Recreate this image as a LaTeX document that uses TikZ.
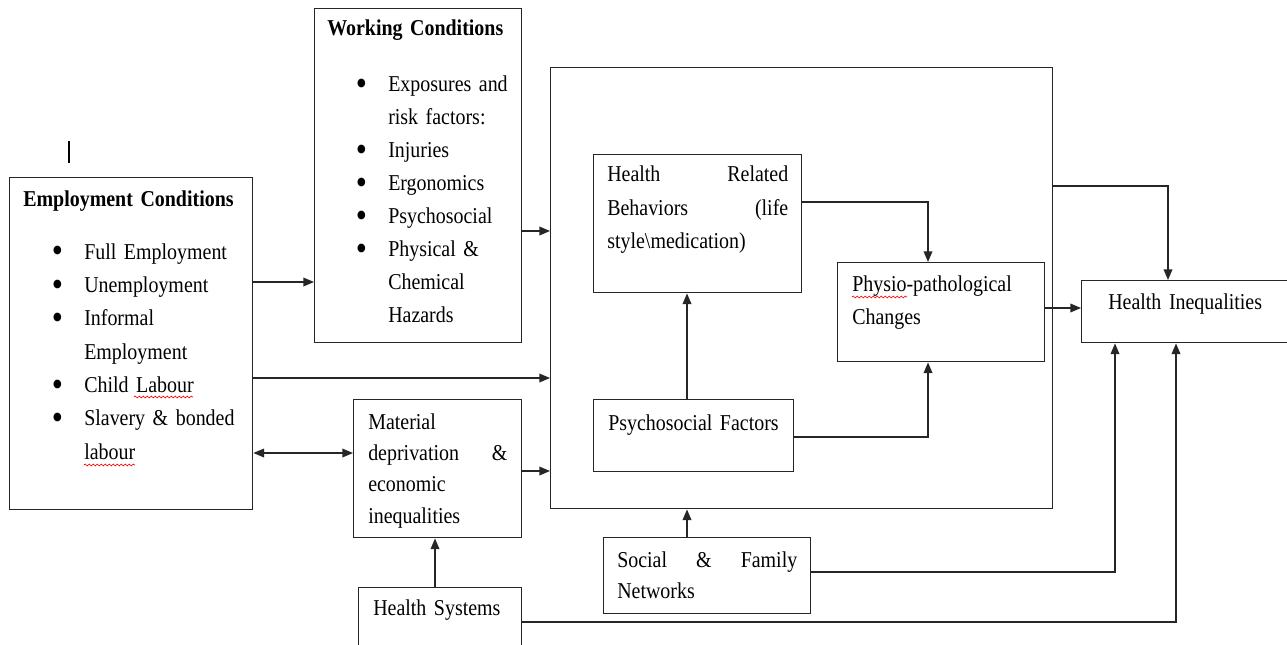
\documentclass[tikz,border=0pt]{standalone}
\usepackage{fontspec}
\setmainfont{Liberation Serif}[FakeStretch=0.88,WordSpace=0.7]
\usetikzlibrary{arrows.meta,decorations.pathmorphing}
\newcommand\txtfont[1]{\fontsize{17}{#1}\selectfont}
\newcommand\bul{\leavevmode\llap{\raisebox{-0.17em}{\scalebox{1.6}{\textbullet}}\hskip 16pt}}
\begin{document}
\begin{tikzpicture}[x=0.75pt,y=-0.75pt,
  box/.style={draw=black!85, line width=1.05pt, inner sep=0pt, anchor=north west},
  txt/.style={anchor=base west, inner sep=0pt, align=left, font=\txtfont{25}},
  arr/.style={draw=black!85, line width=1.05pt, -{Triangle[length=8pt,width=6.5pt]}},
  darr/.style={draw=black!85, line width=1.05pt, {Triangle[length=8pt,width=6.5pt]}-{Triangle[length=8pt,width=6.5pt]}},
  wavy/.style={draw=red, line width=0.5pt, decorate, decoration={snake, amplitude=0.7pt, segment length=3pt}}]
\useasboundingbox (0,0) rectangle (1287,645);

% boxes
\node[box, minimum width=182.25pt, minimum height=249pt] (emp) at (9,177) {};
\node[box, minimum width=155.25pt, minimum height=250.5pt] (wc) at (314,8) {};
\node[box, minimum width=376.5pt, minimum height=330.75pt] (big) at (550,67) {};
\node[box, minimum width=156pt, minimum height=103.5pt] (hrb) at (593,154) {};
\node[box, minimum width=155.25pt, minimum height=74.25pt] (phy) at (837,262) {};
\node[box, minimum width=150pt, minimum height=54pt] (psy) at (593,399) {};
\node[box, minimum width=126pt, minimum height=103.5pt] (mat) at (353,399) {};
\node[box, minimum width=165pt, minimum height=46.5pt] (hi) at (1081,280) {};
\node[box, minimum width=155.25pt, minimum height=57pt] (soc) at (603,537) {};
\node[box, minimum width=122.25pt, minimum height=60pt] (hs) at (358,587) {};

% texts
\node[txt, text width=170pt] (empT) at (23,207) {\textbf{Employment Conditions}};
\node[txt, text width=160pt, font=\txtfont{25}] (empL) at (84,259) {\bul Full Employment\\ \bul Unemployment\\ \bul Informal\\ Employment\\ \bul Child Labour\\ \bul Slavery \& bonded\\ labour};
\node[txt, text width=160pt] (wcT) at (327,36) {\textbf{Working Conditions}};
\node[txt, text width=160pt, font=\txtfont{24.75}] (wcL) at (388,92) {\bul Exposures and\\ risk factors:\\ \bul Injuries\\ \bul Ergonomics\\ \bul Psychosocial\\ \bul Physical \&\\ Chemical\\ Hazards};
\node[txt, text width=135.75pt, font=\txtfont{25}] (hrbT) at (607,182) {Health\hfill Related\\ Behaviors\hfill (life\\ style\textbackslash medication)};
\node[txt, text width=160pt, font=\txtfont{24.75}] (phyT) at (852,291) {Physio-pathological\\ Changes};
\node[txt, text width=160pt] (psyT) at (608,430) {Psychosocial Factors};
\node[txt, text width=104.25pt, font=\txtfont{23.5}] (matT) at (368,429) {Material\\ deprivation\hfill\&\\ economic\\ inequalities};
\node[txt, text width=135pt, font=\txtfont{23.25}] (socT) at (617,567) {Social\hfill\&\hfill Family\\ Networks};
\node[txt, text width=120pt] (hsT) at (373,615) {Health Systems};
\node[txt, text width=150pt] (hiT) at (1108,309) {Health Inequalities};

% spell-check marks and cursor
\draw[wavy] (134,397) -- (193,397);
\draw[wavy] (84,465) -- (135,465);
\draw[wavy] (852,297) -- (907,297);
\draw[line width=1.6pt] (69,141) -- (69,163);

% connectors
\draw[arr] (emp.east |- 0,282) -- (wc.west |- 0,282);
\draw[arr] (wc.east |- 0,231) -- (big.west |- 0,231);
\draw[arr] (emp.east |- 0,378) -- (big.west |- 0,378);
\draw[darr] (emp.east |- 0,453) -- (mat.west |- 0,453);
\draw[arr] (mat.east |- 0,471) -- (big.west |- 0,471);
\draw[arr] (hs.north -| 435,0) -- (mat.south -| 435,0);
\draw[arr] (psy.north -| 687,0) -- (hrb.south -| 687,0);
\draw[arr] (soc.north -| 687,0) -- (big.south -| 687,0);
\draw[arr] (hrb.east |- 0,202) -| (phy.north -| 928,0);
\draw[arr] (psy.east |- 0,437) -| (phy.south -| 928,0);
\draw[arr] (phy.east |- 0,308) -- (hi.west |- 0,308);
\draw[arr] (big.east |- 0,186) -| (hi.north -| 1168,0);
\draw[arr] (soc.east |- 0,572) -| (hi.south -| 1115,0);
\draw[arr] (hs.east |- 0,622) -| (hi.south -| 1176,0);
\end{tikzpicture}
\end{document}
